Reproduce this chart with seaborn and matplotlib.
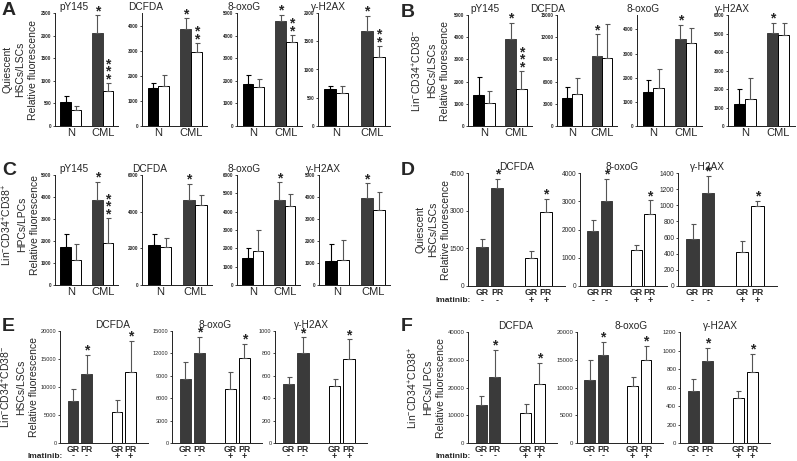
import numpy as np
import pandas as pd
import seaborn as sns
import matplotlib.pyplot as plt
from matplotlib.transforms import blended_transform_factory

sns.set_style('ticks')
plt.rcParams['font.family'] = ['Liberation Sans', 'DejaVu Sans']
plt.rcParams['mathtext.default'] = 'regular'

# ---- data ----
markers4 = ['pY145', 'DCFDA', '8-oxoG', 'γ-H2AX']
markers3 = ['DCFDA', '8-oxoG', 'γ-H2AX']
donors = ['N', 'CML']
samples = ['s1', 's2']
imatinib = ['-', '+']
response = ['GR', 'PR']

# A-C bar order: N s1, N s2, CML s1, CML s2
A_mean = [[540, 355, 2056, 784], [1502, 1595, 3880, 2950],
          [1864, 1716, 4630, 3698], [663, 580, 1686, 1219]]
A_err = [[133, 89, 394, 163], [225, 438, 412, 346],
         [414, 370, 296, 311], [53, 130, 267, 189]]
A_stars = [['', '', '*', '***'], ['', '', '*', '**'],
           ['', '', '*', '**'], ['', '', '*', '**']]
A_ymax = [2500, 4500, 5000, 2000]
A_ystep = [500, 1000, 1000, 500]

B_mean = [[1405, 1027, 3927, 1660], [3760, 4300, 9420, 9200],
          [1390, 1560, 3590, 3450], [1180, 1450, 5040, 4910]]
B_err = [[800, 529, 723, 800], [1490, 2180, 2950, 4600],
         [510, 800, 590, 620], [810, 1140, 540, 670]]
B_stars = [['', '', '*', '***'], ['', '', '*', ''],
           ['', '', '*', ''], ['', '', '*', '']]
B_ymax = [5000, 15000, 4600, 6000]
B_ystep = [1000, 3000, 1000, 1000]

C_mean = [[1742, 1136, 3864, 1894], [2182, 2055, 4636, 4364],
          [1491, 1873, 4636, 4309], [1091, 1136, 3955, 3409]]
C_err = [[561, 728, 833, 1136], [582, 527, 873, 545],
         [545, 1127, 964, 636], [757, 909, 666, 833]]
C_stars = B_stars
C_ymax = [5000, 6000, 6000, 5000]
C_ystep = [1000, 2000, 1000, 1000]

# D-F bar order: GR -, PR -, GR +, PR +
D_mean = [[1561, 3915, 1098, 2950], [1941, 3012, 1271, 2565], [583, 1158, 417, 992]]
D_err = [[291, 357, 291, 529], [412, 788, 176, 470], [179, 209, 137, 62]]
D_ymax = [4500, 4000, 1400]
D_ystep = [1500, 1000, 200]

E_mean = [[7522, 12239, 5552, 12597], [8553, 12000, 7299, 11328], [531, 800, 507, 749]]
E_err = [[2150, 3462, 2209, 5671], [2238, 2239, 2238, 1926], [54, 143, 63, 176]]
E_ymax = [20000, 15000, 1000]
E_ystep = [5000, 3000, 200]

F_mean = [[13814, 23784, 10811, 21381], [11411, 15796, 10270, 15015], [559, 883, 490, 768]]
F_err = [[3003, 9850, 3363, 7448], [3484, 2402, 1622, 2462], [136, 148, 72, 198]]
F_ymax = [40000, 20000, 1200]
F_ystep = [10000, 5000, 200]

imatinib_stars = ['', '*', '', '*']

ylab_q = 'Quiescent\nHSCs/LSCs\nRelative fluorescence'
ylab_hsc = 'Lin$^{-}$CD34$^{+}$CD38$^{-}$\nHSCs/LSCs\nRelative fluorescence'
ylab_hpc = 'Lin$^{-}$CD34$^{+}$CD38$^{+}$\nHPCs/LPCs\nRelative fluorescence'

W, H = 797, 461
fig = plt.figure(figsize=(W / 100, H / 100), dpi=100)


def add_ax(left, right, top, bottom):
    return fig.add_axes([left / W, 1 - bottom / H, (right - left) / W, (bottom - top) / H])


def put_ylabel(ax, text, left, right, edge_px, yfrac):
    ax.set_ylabel(text, fontsize=7.5, linespacing=1.35)
    ax.yaxis.set_label_coords((edge_px - left) / (right - left), yfrac)


def draw(ax, groups, levels, means, errs, stars, colors, width, gap, ymax, ystep, xlim):
    df = pd.DataFrame({'group': np.repeat(groups, len(levels)),
                       'level': np.tile(levels, len(groups)),
                       'value': means})
    sns.barplot(data=df, x='group', y='value', hue='level', order=groups,
                hue_order=levels, palette=['white'] * len(levels), width=width,
                gap=gap, errorbar=None, legend=False, edgecolor='black',
                linewidth=0.7, ax=ax)
    bars = [ax.containers[h][g] for g in range(len(groups)) for h in range(len(levels))]
    centers = []
    for i, bar in enumerate(bars):
        bar.set_facecolor(colors[i])
        if colors[i] != 'white':
            bar.set_edgecolor(colors[i])
        cx = bar.get_x() + bar.get_width() / 2
        centers.append(cx)
        ec = 'black' if colors[i] == 'black' else '#555555'
        ax.errorbar(cx, means[i], yerr=[[0], [errs[i]]], fmt='none', ecolor=ec,
                    elinewidth=0.8, capsize=1.8, capthick=0.8)
        for k in range(len(stars[i])):
            ax.annotate('*', xy=(cx, means[i] + errs[i]), xytext=(0, -2 + k * 5.3),
                        textcoords='offset points', ha='center', va='bottom',
                        fontsize=10, fontweight='bold', annotation_clip=False)
    ax.set_ylim(0, ymax)
    ax.set_yticks(np.arange(0, ymax + 1, ystep))
    ax.set_xlim(*xlim)
    ax.set_xlabel('')
    ax.set_ylabel('')
    sns.despine(ax=ax)
    for s in ['left', 'bottom']:
        ax.spines[s].set_linewidth(0.7)
        ax.spines[s].set_color('#222222')
    ax.tick_params(axis='x', length=0, pad=1.5)
    ax.tick_params(axis='y', length=1.8, width=0.6, pad=0.8)
    return centers


# ---- panels A-C ----
nc_colors = ['black', 'white', '#3d3d3d', 'white']
rows_nc = [
    ('A', A_mean, A_err, A_stars, A_ymax, A_ystep, ylab_q, 13, 126,
     [(55, 118), (142, 207), (237, 302), (318, 390)], [0.3, 0.05, 0.11, 0.14], (-0.5, 1.48),
     (2, 2), (38, 0.5)),
    ('B', B_mean, B_err, B_stars, B_ymax, B_ystep, ylab_hsc, 15, 126,
     [(468, 532), (557, 617), (637, 702), (728, 795)], [0.27, -0.15, 0.09, 0.06], (-0.5, 1.5),
     (401, 4), (450, 0.5)),
    ('C', C_mean, C_err, C_stars, C_ymax, C_ystep, ylab_hpc, 175, 285,
     [(55, 118), (142, 212), (237, 300), (319, 390)], [0.3, 0.11, 0.11, 0.06], (-0.5, 1.48),
     (2, 162), (40, 0.55)),
]
for letter, means, errs, stars, ymax, ystep, ylab, top, bottom, rects, tx, xlim, lpos, lab in rows_nc:
    for j, (l, r) in enumerate(rects):
        ax = add_ax(l, r, top, bottom)
        draw(ax, donors, samples, means[j], errs[j], stars[j], nc_colors,
             0.66, 0, ymax[j], ystep[j], xlim)
        ax.tick_params(axis='x', labelsize=8)
        ax.tick_params(axis='y', labelsize=3.3)
        for t in ax.get_yticklabels():
            t.set_fontweight('bold')
        ax.set_title(markers4[j], x=tx[j], pad=2, fontsize=7.3)
        if j == 0:
            put_ylabel(ax, ylab, l, r, lab[0], lab[1])
    fig.text(lpos[0] / W, 1 - lpos[1] / H, letter, fontsize=14, fontweight='bold', va='top')

# ---- panels D-F ----
im_colors = ['#3a3a3a', '#3a3a3a', 'white', 'white']
rows_im = [
    ('D', D_mean, D_err, D_ymax, D_ystep, ylab_q, 173, 286,
     [(468, 565), (580, 667), (678, 777)], [0.5, 0.48, 0.3], (401, 162), 301, 451, 4.8),
    ('E', E_mean, E_err, E_ymax, E_ystep, ylab_hsc, 331, 443,
     [(60, 148), (172, 262), (275, 367)], [0.6, 0.48, 0.4], (2, 318), 456, 39, 4.1),
    ('F', F_mean, F_err, F_ymax, F_ystep, ylab_hpc, 332, 443,
     [(468, 557), (577, 663), (680, 770)], [0.53, 0.63, 0.45], (401, 318), 456, 446, 4.3),
]
for letter, means, errs, ymax, ystep, ylab, top, bottom, rects, tx, lpos, sign_y, lab_x, ysize in rows_im:
    for j, (l, r) in enumerate(rects):
        ax = add_ax(l, r, top, bottom)
        centers = draw(ax, imatinib, response, means[j], errs[j], imatinib_stars,
                       im_colors, 0.62, 0.2, ymax[j], ystep[j], (-0.45, 1.55))
        ax.set_xticks(centers, labels=response * len(imatinib))
        ax.tick_params(axis='x', labelsize=6.3)
        for t in ax.get_xticklabels():
            t.set_fontweight('bold')
        ax.tick_params(axis='y', labelsize=ysize)
        ax.set_title(markers3[j], x=tx[j], pad=2.5, fontsize=7.3)
        trans = blended_transform_factory(ax.transData, fig.transFigure)
        for c, sign in zip(centers, np.repeat(imatinib, len(response))):
            ax.text(c, 1 - sign_y / H, sign, transform=trans, ha='center', va='center',
                    fontsize=6.5, fontweight='bold')
        if j == 0:
            put_ylabel(ax, ylab, l, r, lab_x, 0.5)
            ax.text(l / W + 0.003, 1 - sign_y / H, 'Imatinib:', transform=fig.transFigure,
                    ha='right', va='center', fontsize=6, fontweight='bold')
    fig.text(lpos[0] / W, 1 - lpos[1] / H, letter, fontsize=14, fontweight='bold', va='top')

plt.savefig('out.png', dpi=100)
